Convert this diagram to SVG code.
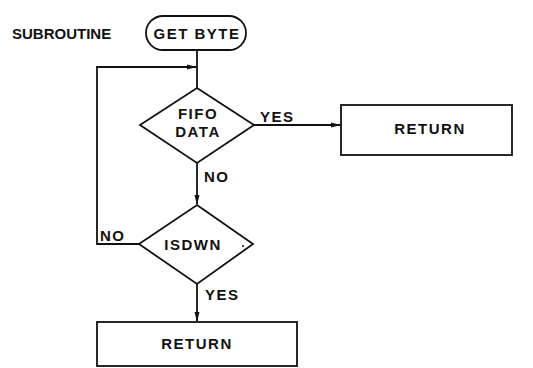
<svg xmlns="http://www.w3.org/2000/svg" width="533" height="368" viewBox="0 0 533 368">
<style>
.s{fill:none;stroke:#111;stroke-width:1.8}
.b{fill:#fff;stroke:#111;stroke-width:1.8}
text{font-family:"Liberation Sans",Arial,sans-serif;font-size:15px;font-weight:bold;fill:#111;letter-spacing:1.5px}
.c{text-anchor:middle}
</style>
<defs>
<marker id="a" markerWidth="10" markerHeight="6" refX="9" refY="3" orient="auto" markerUnits="userSpaceOnUse">
<path d="M0,0.5 L10,3 L0,5.5 Z" fill="#111"/>
</marker>
</defs>
<rect width="533" height="368" fill="#fff"/>
<text x="12" y="39" style="letter-spacing:0">SUBROUTINE</text>
<g id="connectors">
<line class="s" x1="197" y1="50" x2="197" y2="88"/>
<polyline class="s" points="139,244 97,244 97,67 196,67" marker-end="url(#a)"/>
<line class="s" x1="253" y1="125" x2="340" y2="125" marker-end="url(#a)"/>
<line class="s" x1="197" y1="163" x2="197" y2="204" marker-end="url(#a)"/>
<line class="s" x1="197" y1="284" x2="197" y2="321" marker-end="url(#a)"/>
<text x="260" y="122">YES</text>
<text x="204" y="182">NO</text>
<text x="100" y="241">NO</text>
<text x="205" y="300">YES</text>
</g>
<g id="getbyte">
<rect class="b" x="146" y="16" width="100" height="34" rx="17"/>
<text class="c" x="197" y="39">GET BYTE</text>
</g>
<g id="fifo">
<polygon class="b" points="197,88 254,125 197,163 140,125"/>
<text class="c" x="198" y="119">FIFO</text>
<text class="c" x="198" y="137">DATA</text>
</g>
<g id="return1">
<rect class="b" x="341" y="105" width="171" height="50"/>
<text class="c" x="430" y="134">RETURN</text>
</g>
<g id="isdwn">
<polygon class="b" points="197,205 253,244 197,284 139,244"/>
<text class="c" x="193" y="250">ISDWN</text>
<circle cx="243" cy="246" r="1" fill="#111"/>
</g>
<g id="return2">
<rect class="b" x="97" y="322" width="200" height="44"/>
<text class="c" x="197" y="349">RETURN</text>
</g>
</svg>
